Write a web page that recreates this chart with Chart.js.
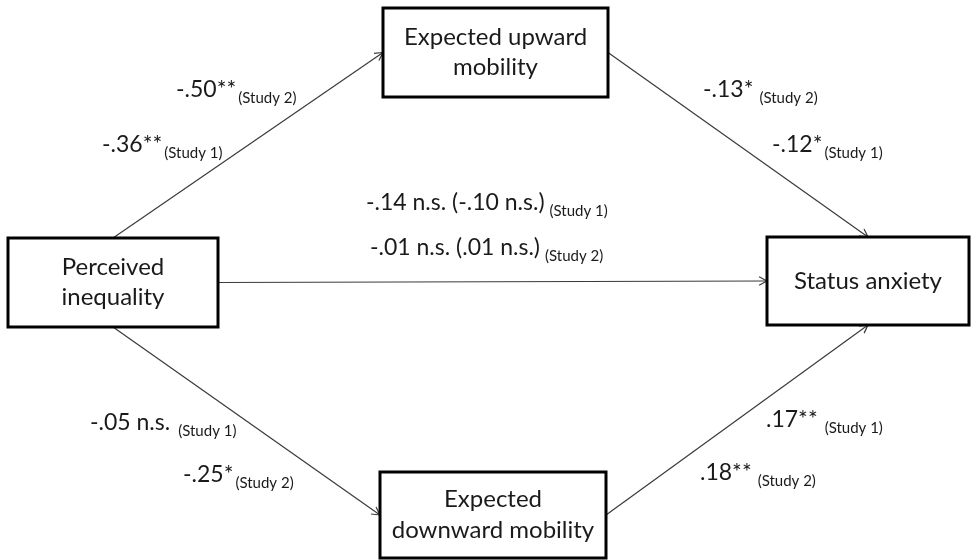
<!DOCTYPE html>
<html>
<head>
<meta charset="utf-8">
<script src="https://cdn.jsdelivr.net/npm/chart.js@4"></script>
<style>
  body { margin: 0; background: #fff; }
</style>
</head>
<body>
<canvas id="chart" width="971" height="560"></canvas>
<script>
// Path model data
const nodeNames = ['Perceived\ninequality', 'Expected upward\nmobility', 'Status anxiety', 'Expected\ndownward mobility']
const pathFrom = [0, 1, 0, 0, 3]
const pathTo = [1, 2, 2, 3, 2]
const study1 = ['-.36**', '-.12*', '-.14 n.s. (-.10 n.s.)', '-.05 n.s.', '.17**']
const study2 = ['-.50**', '-.13*', '-.01 n.s. (.01 n.s.)', '-.25*', '.18**']

// Layout (diagram units = pixels of the 971x560 picture)
const boxes = [
  { cx: 113, cy: 282.5, w: 210, h: 89 },
  { cx: 495.5, cy: 52.5, w: 225, h: 89 },
  { cx: 868, cy: 281, w: 202, h: 88 },
  { cx: 493, cy: 515, w: 226, h: 86 }
]
const fromSide = ['top', 'right', 'right', 'bottom', 'right']
const toSide = ['left', 'top', 'left', 'left', 'bottom']
// [left x, center y, gap before subscript]
const study1Pos = [[102, 145, 2], [772, 145, 2], [366, 203, 5], [90, 423, 8], [766, 420, 7]]
const study2Pos = [[176, 90, 2], [703, 90, 6], [370, 248, 5], [183, 475, 2], [700, 473, 6]]

const FONT = 'Lato, "Open Sans", sans-serif'

const anchor = (i, side) => {
  const b = boxes[i]
  if (side === 'top') return { x: b.cx, y: b.cy - b.h / 2 }
  if (side === 'bottom') return { x: b.cx, y: b.cy + b.h / 2 }
  if (side === 'left') return { x: b.cx - b.w / 2, y: b.cy }
  return { x: b.cx + b.w / 2, y: b.cy }
}

// Boxes, arrowheads and labels
const diagramPlugin = {
  id: 'diagram',
  afterDatasetsDraw (chart) {
    const { ctx, scales: { x, y } } = chart
    ctx.save()

    // arrowheads
    chart.data.datasets.forEach((ds, i) => {
      const pts = chart.getDatasetMeta(i).data
      const a = pts[0]; const b = pts[pts.length - 1]
      const ang = Math.atan2(b.y - a.y, b.x - a.x)
      ctx.strokeStyle = '#3a3a3a'
      ctx.lineWidth = 1.2
      ctx.beginPath()
      for (const s of [-1, 1]) {
        ctx.moveTo(b.x, b.y)
        ctx.lineTo(b.x - 9 * Math.cos(ang + s * 0.5), b.y - 9 * Math.sin(ang + s * 0.5))
      }
      ctx.stroke()
    })

    // boxes
    boxes.forEach((b, i) => {
      const x0 = x.getPixelForValue(b.cx - b.w / 2)
      const x1 = x.getPixelForValue(b.cx + b.w / 2)
      const y0 = y.getPixelForValue(b.cy - b.h / 2)
      const y1 = y.getPixelForValue(b.cy + b.h / 2)
      ctx.fillStyle = '#fff'
      ctx.fillRect(x0, y0, x1 - x0, y1 - y0)
      ctx.strokeStyle = '#000'
      ctx.lineWidth = 3
      ctx.strokeRect(x0, y0, x1 - x0, y1 - y0)
      const lines = nodeNames[i].split('\n')
      ctx.fillStyle = '#1a1a1a'
      ctx.font = `24px ${FONT}`
      ctx.textAlign = 'center'
      ctx.textBaseline = 'middle'
      lines.forEach((t, k) => {
        const off = (k - (lines.length - 1) / 2) * 30.5
        ctx.fillText(t, x.getPixelForValue(b.cx), y.getPixelForValue(b.cy + off))
      })
    })

    // path coefficients
    const drawCoef = (text, sub, pos) => {
      const px = x.getPixelForValue(pos[0])
      const py = y.getPixelForValue(pos[1])
      ctx.textAlign = 'left'
      ctx.textBaseline = 'middle'
      ctx.fillStyle = '#1a1a1a'
      ctx.font = `23px ${FONT}`
      ctx.fillText(text, px, py)
      const w = ctx.measureText(text).width
      ctx.font = `15px ${FONT}`
      ctx.fillText(sub, px + w + pos[2], py + 8)
    }
    study1.forEach((t, i) => drawCoef(t, '(Study 1)', study1Pos[i]))
    study2.forEach((t, i) => drawCoef(t, '(Study 2)', study2Pos[i]))

    ctx.restore()
  }
}

const chart = document.querySelector('#chart').getContext('2d')
new Chart(chart, {
  type: 'scatter',
  data: {
    datasets: pathFrom.map((f, i) => ({
      data: [anchor(f, fromSide[i]), anchor(pathTo[i], toSide[i])],
      showLine: true,
      borderColor: '#3a3a3a',
      borderWidth: 1.2,
      pointRadius: 0,
      fill: false
    }))
  },
  options: {
    responsive: false,
    animation: false,
    layout: { padding: 0 },
    scales: {
      x: { type: 'linear', min: 0, max: 971, display: false },
      y: { type: 'linear', min: 0, max: 560, reverse: true, display: false }
    },
    plugins: {
      legend: { display: false },
      tooltip: { enabled: false }
    }
  },
  plugins: [diagramPlugin]
})
</script>
</body>
</html>
